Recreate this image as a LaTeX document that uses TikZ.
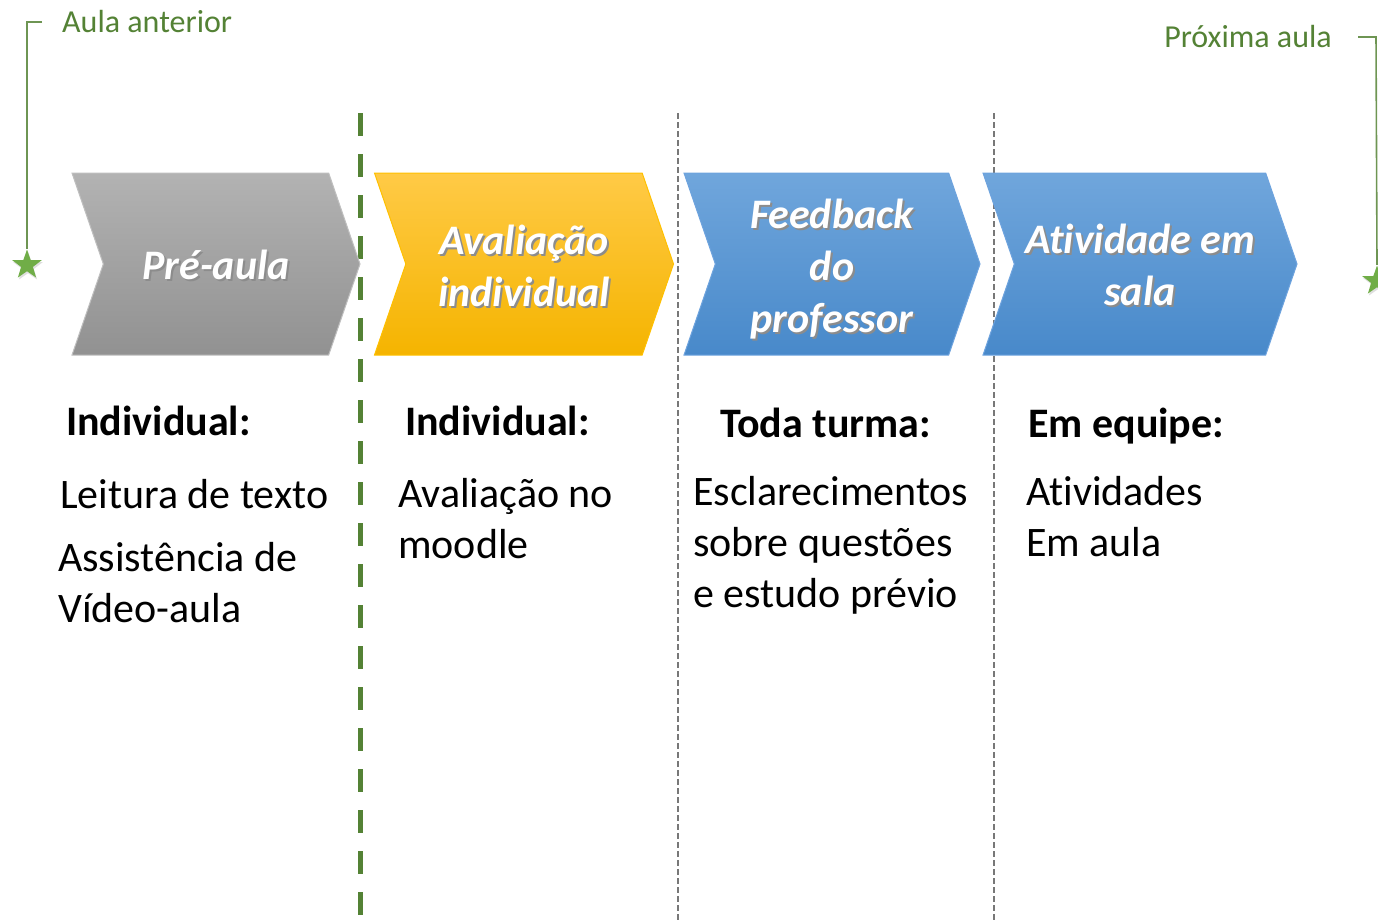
\documentclass[tikz,border=0pt]{standalone}
\usepackage{fontspec}
\setmainfont{Carlito}[Ligatures=NoCommon]
\usetikzlibrary{shapes.symbols, shapes.geometric, shadows}

\definecolor{verdeEscuro}{RGB}{84,130,53}
\definecolor{verdeEstrela}{RGB}{112,173,71}
\definecolor{cinzaLinha}{RGB}{120,120,120}
\newcommand{\sombra}[1]{\leavevmode\rlap{\kern2pt\raisebox{-2pt}{\textcolor{black!45}{#1}}}#1}
\tikzset{
  etapa/.style={signal, signal from=west, signal to=east, signal pointer angle=142,
    minimum height=182pt, inner sep=0pt, line width=1pt},
  textoEtapa/.style={inner sep=0pt, align=center, text=white,
    font=\fontsize{42}{52}\selectfont\bfseries\itshape},
  legenda/.style={anchor=base west, inner sep=0pt, align=left, font=\fontsize{42}{51}\selectfont},
  titulo/.style={legenda, font=\fontsize{42}{51}\selectfont\bfseries},
  rotulo/.style={inner sep=0pt, text=verdeEscuro, font=\fontsize{32}{38}\selectfont},
  estrela/.style={star, star points=5, star point ratio=2.5, fill=verdeEstrela, minimum size=31pt, inner sep=0pt,
    drop shadow={opacity=0.25, shadow xshift=1pt, shadow yshift=-2pt}},
  colchete/.style={verdeEscuro!85, line width=1.6pt},
  divisoria/.style={verdeEscuro, line width=5pt, dash pattern=on 23pt off 18pt},
  separador/.style={cinzaLinha, line width=2pt, dash pattern=on 6pt off 3pt}
}

\begin{document}
\begin{tikzpicture}[x=1pt, y=-1pt]
  \useasboundingbox (0,0) rectangle (1378,921);

  % Separators
  \draw[divisoria] (360,113) -- (360,921);
  \draw[separador] (678,113) -- (678,921);
  \draw[separador] (994,113) -- (994,921);

  % Steps
  \node[etapa, minimum width=288pt, shade, top color=black!30, bottom color=black!43, draw=black!25]
    (pre) at (216,264) {};
  \node[etapa, minimum width=299pt, shade, top color={rgb,255:red,255;green,202;blue,70}, middle color={rgb,255:red,255;green,192;blue,0}, bottom color={rgb,255:red,245;green,180;blue,0}, draw={rgb,255:red,255;green,192;blue,0}]
    (aval) at (524,264) {};
  \node[etapa, minimum width=296pt, shade, top color={rgb,255:red,112;green,166;blue,220}, middle color={rgb,255:red,86;green,152;blue,216}, bottom color={rgb,255:red,72;green,137;blue,202}, draw={rgb,255:red,110;green,163;blue,222}]
    (feed) at (832,264) {};
  \node[etapa, minimum width=314pt, shade, top color={rgb,255:red,112;green,166;blue,220}, middle color={rgb,255:red,86;green,152;blue,216}, bottom color={rgb,255:red,72;green,137;blue,202}, draw={rgb,255:red,110;green,163;blue,222}]
    (ativ) at (1140,264) {};
  \node[textoEtapa] (preT) at ([yshift=-2pt]pre.center) {\sombra{Pré-aula}};
  \node[textoEtapa] (avalT) at ([yshift=-3pt]aval.center) {\sombra{Avaliação}\\\sombra{individual}};
  \node[textoEtapa] (feedT) at ([yshift=-6pt]feed.center) {\sombra{Feedback}\\\sombra{do}\\\sombra{professor}};
  \node[textoEtapa] (ativT) at ([yshift=-2pt]ativ.center) {\sombra{Atividade em}\\\sombra{sala}};

  % Previous and next class
  \node[rotulo, anchor=base west] (aulaA) at (62,32) {Aula anterior};
  \node[rotulo, anchor=base east] (aulaP) at (1332,47) {Próxima aula};
  \node[estrela] (estrelaA) at (27,265) {};
  \node[estrela] (estrelaP) at (1377,281) {};
  \coordinate (cA) at (42,22);
  \coordinate (dA) at (27,22);
  \coordinate (cP) at (1358,37);
  \coordinate (dP) at (1376,37);
  \draw[colchete] (cA) -- (dA) -- (estrelaA.north);
  \draw[colchete] (cP) -- (dP) -- (estrelaP.north);

  % Descriptions (base = last line)
  \node[titulo] (ind1) at (66,435) {Individual:};
  \node[legenda] (leit) at (60,508) {Leitura de texto};
  \node[legenda] (assis) at (58,622) {Assistência de\\Vídeo-aula};
  \node[titulo] (ind2) at (405,435) {Individual:};
  \node[legenda] (avm) at (398,558) {Avaliação no\\moodle};
  \node[titulo] (toda) at (720,437) {Toda turma:};
  \node[legenda] (escl) at (693,607) {Esclarecimentos\\sobre questões\\e estudo prévio};
  \node[titulo] (equi) at (1028,437) {Em equipe:};
  \node[legenda] (ativs) at (1026,556) {Atividades\\Em aula};
\end{tikzpicture}
\end{document}
